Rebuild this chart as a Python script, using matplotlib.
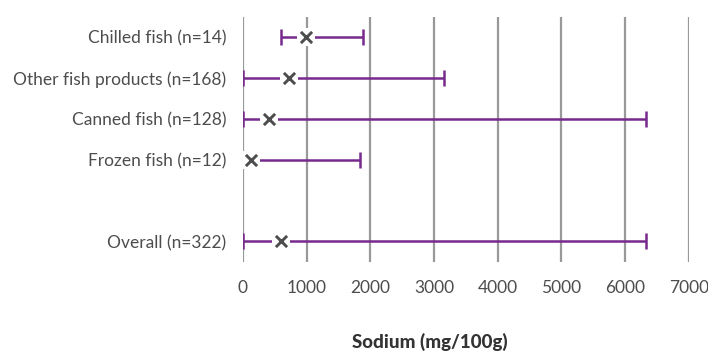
import numpy as np
import matplotlib.pyplot as plt

labels = ['Chilled fish (n=14)', 'Other fish products (n=168)', 'Canned fish (n=128)',
          'Frozen fish (n=12)', 'Overall (n=322)']
pos = [0, 1, 2, 3, 5]
mins = [600, 0, 0, 10, 0]
means = [990, 725, 405, 125, 600]
maxs = [1890, 3150, 6330, 1835, 6330]
ticks = [0, 1000, 2000, 3000, 4000, 5000, 6000, 7000]

purple = '#762a8c'
grid = '#999999'
text = '#4d4d4d'

plt.rcParams['font.family'] = ['Lato', 'DejaVu Sans']

fig = plt.figure(figsize=(7.08, 3.51), dpi=100)
ax = fig.add_axes([0.343, 0.254, 0.630, 0.698])

for t in ticks:
    ax.axvline(t, color=grid, lw=1.6, zorder=1)

means = np.array(means)
lo = means - np.array(mins)
hi = np.array(maxs) - means
ax.errorbar(means, pos, xerr=[lo, hi], fmt='none', ecolor=purple, elinewidth=1.8,
            capsize=5.5, capthick=1.8, zorder=2)
ax.scatter(means, pos, marker='s', s=150, color='white', zorder=3, linewidths=0)
ax.scatter(means, pos, marker='x', s=65, color=text, linewidths=2.1, zorder=4)

ax.set_xlim(0, 7000)
ax.set_ylim(5.5, -0.5)
ax.set_yticks(pos)
ax.set_yticklabels(labels, fontsize=12.5, color=text)
ax.set_xticks(ticks)
ax.set_xticklabels([str(t) for t in ticks], fontsize=12.5, color=text)
ax.tick_params(length=0, pad=13, axis='x')
ax.tick_params(length=0, pad=12, axis='y')
for s in ax.spines.values():
    s.set_visible(False)
ax.set_xlabel('Sodium (mg/100g)', fontsize=13.5, fontweight='black', color='#333333')
ax.xaxis.set_label_coords(0.42, -0.29)

fig.savefig('out.png', dpi=100)
